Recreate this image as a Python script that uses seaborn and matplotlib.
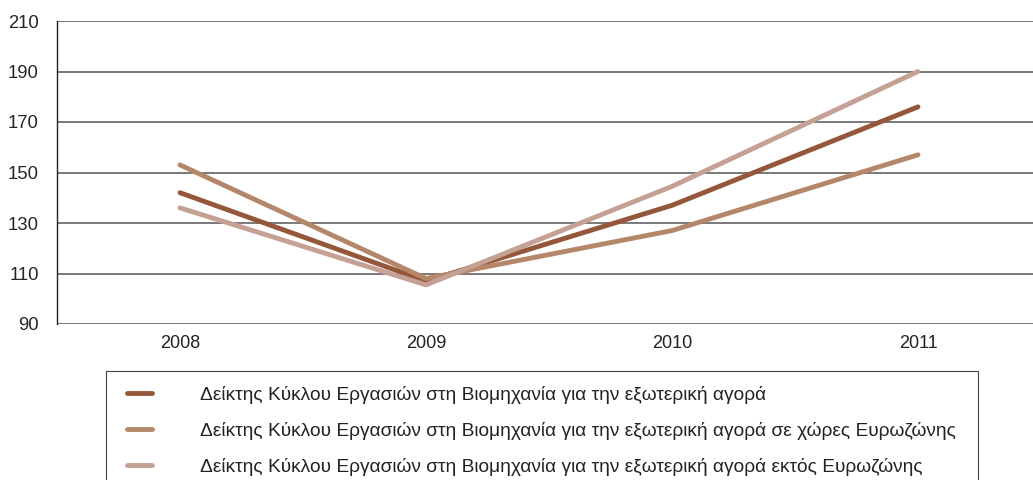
import pandas as pd
import numpy as np
from matplotlib import pyplot as plt
from matplotlib.patches import Rectangle
import seaborn as sns

# ---- data ----
years = ["2008", "2009", "2010", "2011"]
series_names = [
    "Δείκτης Κύκλου Εργασιών στη Βιομηχανία για την εξωτερική αγορά",
    "Δείκτης Κύκλου Εργασιών στη Βιομηχανία για την εξωτερική αγορά σε χώρες Ευρωζώνης",
    "Δείκτης Κύκλου Εργασιών στη Βιομηχανία για την εξωτερική αγορά εκτός Ευρωζώνης",
]
total_vals = [142.0, 107.0, 137.0, 176.0]
euro_vals = [153.0, 108.0, 127.0, 157.0]
non_euro_vals = [136.0, 105.5, 144.5, 190.0]
colors = ["#95573a", "#b5876a", "#c4a194"]

# ---- style ----
sns.set_style("white")
plt.rcParams['font.family'] = ['Liberation Sans', 'DejaVu Sans']
plt.rc('font', size=13)
plt.rc('text', color='#222222')

rows = []
for name, vals in zip(series_names, [total_vals, euro_vals, non_euro_vals]):
    for i, v in enumerate(vals):
        rows.append({"x": i, "year": years[i], "value": v, "series": name})
df = pd.DataFrame(rows)

W, H = 1033, 480
fig = plt.figure(figsize=(W / 100, H / 100), dpi=100)
ax = fig.add_axes([57 / W, 1 - 324 / H, 1 - 57 / W, (324 - 21) / H])

sns.lineplot(data=df, x="x", y="value", hue="series", hue_order=series_names,
             palette=colors, linewidth=3.5, ax=ax, legend=True)

ax.set_xlim(-0.5, -0.5 + (W - 57) / 246)
ax.set_ylim(90, 210)
ax.set_yticks(range(90, 211, 20))
ax.set_xticks(range(len(years)))
ax.set_xticklabels(years)
ax.set_xticks([-0.5, 0.5, 1.5, 2.5], minor=True)
ax.tick_params(axis='x', which='major', length=0, pad=8, labelsize=13, colors='#222222')
ax.tick_params(axis='x', which='minor', length=9, width=1, color='#222222', direction='out')
ax.tick_params(axis='y', length=10, width=1, color='#222222', labelsize=13.3, pad=3, direction='out')
ax.yaxis.grid(True, color='#555555', linewidth=1.1)
ax.set_axisbelow(True)
for s in ['top', 'right', 'bottom']:
    ax.spines[s].set_visible(False)
ax.spines['left'].set_color('#222222')
ax.spines['left'].set_linewidth(1)
ax.set_xlabel("")
ax.set_ylabel("")

# legend box drawn by hand, runs off the bottom like the original
fig.patches.append(Rectangle((106 / W, -0.05), (978 - 106) / W, 0.05 + (1 - 371 / H),
                             transform=fig.transFigure, fill=False,
                             edgecolor='#444444', linewidth=0.8))

handles, labels = ax.get_legend_handles_labels()
ax.legend_.remove()
leg = fig.legend(handles, labels, loc='upper left',
                 bbox_to_anchor=(127 / W, 1 - 386 / H),
                 frameon=False, fontsize=13.8, handlelength=1.3, handletextpad=2.5,
                 labelspacing=0.93, borderpad=0, borderaxespad=0)
for t in leg.get_texts():
    t.set_color('#222222')

plt.savefig("out.png", dpi=100)
